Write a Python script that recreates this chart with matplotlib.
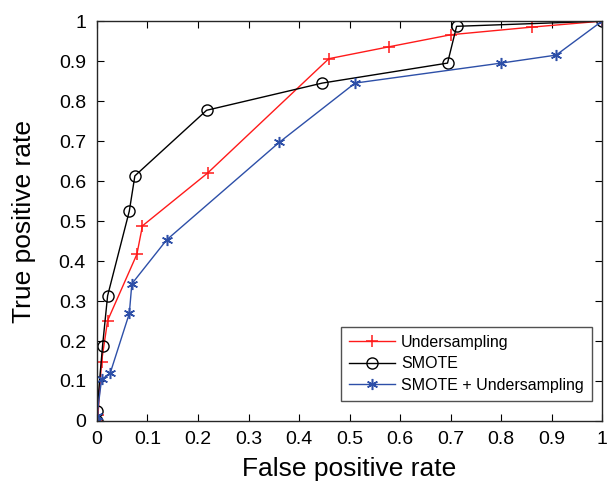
import numpy as np
import matplotlib.pyplot as plt

plt.rcParams['font.family'] = ['Liberation Sans', 'DejaVu Sans']

# ROC points for each resampling scheme
fpr_under = [0, 0.002, 0.009, 0.021, 0.079, 0.090, 0.219, 0.459, 0.579, 0.701, 0.861, 1.0]
tpr_under = [0, 0.015, 0.148, 0.251, 0.417, 0.488, 0.620, 0.906, 0.936, 0.966, 0.985, 1.0]

fpr_smote = [0, 0, 0.011, 0.021, 0.064, 0.075, 0.217, 0.446, 0.694, 0.712, 1.0]
tpr_smote = [0, 0.025, 0.188, 0.313, 0.525, 0.613, 0.777, 0.845, 0.895, 0.987, 1.0]

fpr_both = [0, 0, 0.009, 0.026, 0.064, 0.069, 0.138, 0.361, 0.511, 0.800, 0.909, 1.0]
tpr_both = [0, 0.012, 0.104, 0.119, 0.269, 0.343, 0.453, 0.697, 0.845, 0.895, 0.915, 1.0]

tick_labels = ['0', '0.1', '0.2', '0.3', '0.4', '0.5', '0.6', '0.7', '0.8', '0.9', '1']

fig = plt.figure(figsize=(6.10, 4.82), dpi=100)
ax = fig.add_axes([0.159, 0.1266, 0.828, 0.8296])

ax.plot(fpr_under, tpr_under, color='#ff1a1a', marker='+', markersize=9,
        markeredgewidth=1.1, linewidth=1.0, label='Undersampling')
ax.plot(fpr_smote, tpr_smote, color='black', marker='o', markersize=8,
        markerfacecolor='none', markeredgewidth=1.0, linewidth=1.0, label='SMOTE')
ax.plot(fpr_both, tpr_both, color='#2d4fa8', marker=(6, 2, 0), markersize=8,
        markeredgewidth=1.1, linewidth=1.0, label='SMOTE + Undersampling')

ax.set_xlim(0, 1)
ax.set_ylim(0, 1)
ax.set_xticks(np.arange(0, 1.01, 0.1))
ax.set_yticks(np.arange(0, 1.01, 0.1))
ax.set_xticklabels(tick_labels)
ax.set_yticklabels(tick_labels)
ax.tick_params(direction='in', top=True, right=True, labelsize=14, length=5, width=0.8)
ax.tick_params(axis='x', pad=7)
ax.tick_params(axis='y', pad=8)
for s in ax.spines.values():
    s.set_color('#262626')
    s.set_linewidth(1.0)

ax.set_xlabel('False positive rate', fontsize=19, labelpad=7)
ax.set_ylabel('True positive rate', fontsize=19, labelpad=16)

leg = ax.legend(loc='lower right', fontsize=11.5, frameon=True, fancybox=False,
                edgecolor='#262626', handlelength=2.9, borderpad=0.5,
                labelspacing=0.42, handletextpad=0.4, borderaxespad=0,
                bbox_to_anchor=(0.980, 0.05))
leg.get_frame().set_linewidth(1.0)

fig.savefig('out.png', dpi=100)
